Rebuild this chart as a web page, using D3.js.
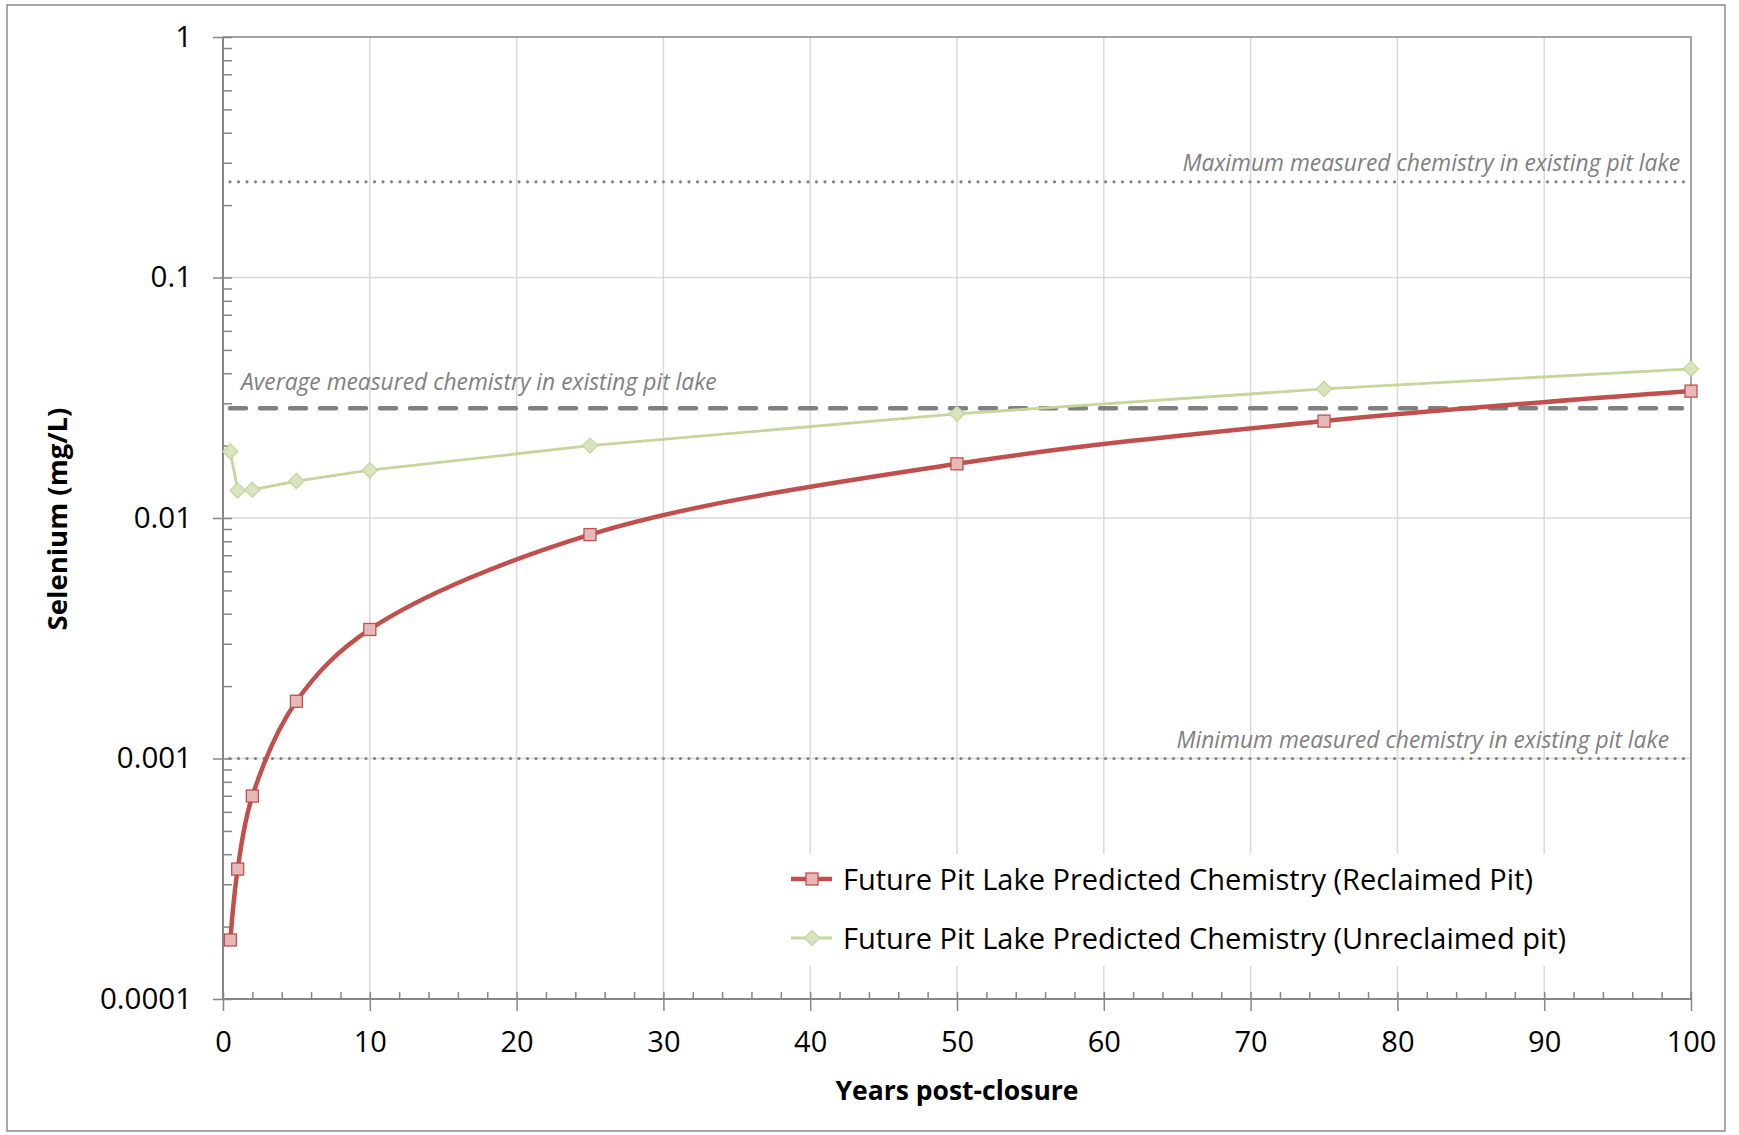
<!DOCTYPE html>
<html>
<head>
<meta charset="utf-8">
<script src="https://cdn.jsdelivr.net/npm/d3@7"></script>
<style>
body { margin: 0; background: #fff; }
text { font-family: "Open Sans", Lato, sans-serif; }
</style>
</head>
<body>
<div id="chart"></div>
<script>
// datos
const years = [0.5, 1, 2, 5, 10, 25, 50, 75, 100];
const reclaimed = [0.000176, 0.000347, 0.000698, 0.00173, 0.00344, 0.00853, 0.0168, 0.0253, 0.0337];
const unreclaimed = [0.0189, 0.0130, 0.0131, 0.01425, 0.0158, 0.0200, 0.0271, 0.0344, 0.0417];
const seriesNames = ['Future Pit Lake Predicted Chemistry (Reclaimed Pit)', 'Future Pit Lake Predicted Chemistry (Unreclaimed pit)'];

const refNames = ['Maximum measured chemistry in existing pit lake', 'Average measured chemistry in existing pit lake', 'Minimum measured chemistry in existing pit lake'];
const refValues = [0.25, 0.0286, 0.001];

const yTicks = [0.0001, 0.001, 0.01, 0.1, 1];
const yTickLabels = ['0.0001', '0.001', '0.01', '0.1', '1'];
const xTicks = [0, 10, 20, 30, 40, 50, 60, 70, 80, 90, 100];

const xTitle = 'Years post-closure';
const yTitle = 'Selenium (mg/L)';

// colores
const RED = '#c0504d', RED_FILL = '#e6b9b8',
    GREEN = '#c3d69b', GREEN_FILL = '#d7e4bd',
    GRID = '#d9d9d9', AXIS = '#868686', REF = '#808080';

const W = 1739, H = 1135;
let margin = {top: 37, right: 48, bottom: 136, left: 223};
let width = W - margin.left - margin.right,
    height = H - margin.top - margin.bottom;

let svgRoot = d3.select('#chart').append('svg')
    .attr('width', W).attr('height', H);

// marco exterior
svgRoot.append('rect')
    .attr('x', 7).attr('y', 5).attr('width', 1718).attr('height', 1126)
    .attr('fill', '#fff').attr('stroke', '#8c8c8c').attr('stroke-width', 1.5);

let svg = svgRoot.append('g')
    .attr('transform', 'translate(' + margin.left + ',' + margin.top + ')');

let x = d3.scaleLinear().domain([0, 100]).range([0, width]);
let y = d3.scaleLog().domain([0.0001, 1]).range([height, 0]);

// rejilla
svg.append('g').selectAll('line')
    .data(xTicks.filter(d => d > 0 && d < 100))
    .enter().append('line')
    .attr('x1', d => x(d)).attr('x2', d => x(d))
    .attr('y1', 0).attr('y2', height)
    .attr('stroke', GRID).attr('stroke-width', 1.5);

svg.append('g').selectAll('line')
    .data(yTicks.filter(d => d > 0.0001 && d < 1))
    .enter().append('line')
    .attr('x1', 0).attr('x2', width)
    .attr('y1', d => y(d)).attr('y2', d => y(d))
    .attr('stroke', GRID).attr('stroke-width', 1.5);

// borde del area
svg.append('rect')
    .attr('width', width).attr('height', height)
    .attr('fill', 'none').attr('stroke', AXIS).attr('stroke-width', 1.5);

// marcas menores del eje Y
let yMinor = [];
yTicks.slice(0, -1).forEach(function(d) {
    for (let k = 2; k <= 9; k++) yMinor.push(d * k);
});

let styleAxis = function(g) {
    g.select('.domain').remove();
    g.selectAll('.tick line').attr('stroke', AXIS).attr('stroke-width', 1.5);
};

svg.append('g')
    .call(d3.axisLeft(y).tickValues(yMinor).tickSize(-9).tickFormat(''))
    .call(styleAxis);

svg.append('g')
    .call(d3.axisLeft(y).tickValues(yTicks).tickSize(-9).tickFormat(''))
    .call(styleAxis);

svg.append('g')
    .call(d3.axisLeft(y).tickValues(yTicks).tickSize(10).tickPadding(21)
        .tickFormat((d, i) => yTickLabels[i]))
    .call(styleAxis)
    .call(g => g.selectAll('text')
        .attr('fill', '#000').style('font-size', '29.5px'));

svg.append('line')
    .attr('x1', 0).attr('x2', 0).attr('y1', 0).attr('y2', height)
    .attr('stroke', AXIS).attr('stroke-width', 2);

// eje X
let xMinor = d3.range(0, 101, 2).filter(d => d % 10 != 0);

svg.append('g')
    .attr('transform', 'translate(0,' + height + ')')
    .call(d3.axisBottom(x).tickValues(xMinor).tickSize(-7).tickFormat(''))
    .call(styleAxis);

svg.append('g')
    .attr('transform', 'translate(0,' + height + ')')
    .call(d3.axisBottom(x).tickValues(xTicks).tickSize(-7).tickFormat(''))
    .call(styleAxis);

svg.append('g')
    .attr('transform', 'translate(0,' + height + ')')
    .call(d3.axisBottom(x).tickValues(xTicks).tickSize(12).tickPadding(20))
    .call(styleAxis)
    .call(g => g.selectAll('text')
        .attr('fill', '#000').style('font-size', '29px'));

svg.append('line')
    .attr('x1', 0).attr('x2', width).attr('y1', height).attr('y2', height)
    .attr('stroke', AXIS).attr('stroke-width', 2);

// titulos de ejes
svg.append('text')
    .attr('x', x(50)).attr('y', height + 101)
    .attr('text-anchor', 'middle')
    .style('font-size', '26.5px').style('font-weight', 700)
    .text(xTitle);

svg.append('text')
    .attr('transform', 'translate(' + (-156) + ',' + (y(0.01) + 1) + ') rotate(-90)')
    .attr('text-anchor', 'middle')
    .style('font-size', '27.5px').style('font-weight', 700)
    .text(yTitle);

// lineas de referencia
let refDash = ['0 8.5', '16 14', '0 8.5'];
let refWidth = [3.2, 4.5, 3.2];
svg.append('g').selectAll('line')
    .data(refValues)
    .enter().append('line')
    .attr('x1', 7).attr('x2', (d, i) => i == 1 ? width - 9 : width - 3)
    .attr('y1', d => y(d)).attr('y2', d => y(d))
    .attr('stroke', REF)
    .attr('stroke-width', (d, i) => refWidth[i])
    .attr('stroke-linecap', 'round')
    .attr('stroke-dasharray', (d, i) => refDash[i]);

let refLabelX = [width - 11, 18, width - 22];
let refLabelDy = [-11, -18, -11];
svg.append('g').selectAll('text')
    .data(refValues)
    .enter().append('text')
    .attr('x', (d, i) => refLabelX[i])
    .attr('y', (d, i) => y(d) + refLabelDy[i])
    .attr('text-anchor', (d, i) => i == 1 ? 'start' : 'end')
    .attr('fill', REF)
    .style('font-size', '22.8px').style('font-style', 'italic')
    .text((d, i) => refNames[i]);

// series
let redData = years.map((d, i) => [d, reclaimed[i]]);
let greenData = years.map((d, i) => [d, unreclaimed[i]]);

let redLine = d3.line()
    .x(d => x(d[0])).y(d => y(d[1]))
    .curve(d3.curveCatmullRom.alpha(0.5));
let greenLine = d3.line()
    .x(d => x(d[0])).y(d => y(d[1]));

svg.append('path')
    .datum(greenData)
    .attr('d', greenLine)
    .attr('fill', 'none').attr('stroke', GREEN).attr('stroke-width', 2.8);

svg.append('g').selectAll('path')
    .data(greenData)
    .enter().append('path')
    .attr('d', d3.symbol().type(d3.symbolSquare).size(115))
    .attr('transform', d => 'translate(' + x(d[0]) + ',' + y(d[1]) + ') rotate(45)')
    .attr('fill', GREEN_FILL).attr('stroke', GREEN).attr('stroke-width', 1.2);

svg.append('path')
    .datum(redData)
    .attr('d', redLine)
    .attr('fill', 'none').attr('stroke', RED).attr('stroke-width', 4.5);

svg.append('g').selectAll('rect')
    .data(redData)
    .enter().append('rect')
    .attr('x', d => x(d[0]) - 6).attr('y', d => y(d[1]) - 6)
    .attr('width', 12).attr('height', 12)
    .attr('fill', RED_FILL).attr('stroke', RED).attr('stroke-width', 1.3);

// leyenda
let legend = svg.append('g')
    .attr('transform', 'translate(' + (782 - margin.left) + ',' + (854 - margin.top) + ')');

legend.append('rect')
    .attr('width', 810).attr('height', 112).attr('fill', '#fff');

let legendColors = [RED, GREEN];
let legendWidths = [4.5, 2.8];
seriesNames.forEach(function(name, i) {
    let ly = 25 + i * 59;
    legend.append('line')
        .attr('x1', 9).attr('x2', 50).attr('y1', ly).attr('y2', ly)
        .attr('stroke', legendColors[i]).attr('stroke-width', legendWidths[i]);
    if (i == 0) {
        legend.append('rect')
            .attr('x', 24).attr('y', ly - 6).attr('width', 12).attr('height', 12)
            .attr('fill', RED_FILL).attr('stroke', RED).attr('stroke-width', 1.3);
    } else {
        legend.append('path')
            .attr('d', d3.symbol().type(d3.symbolSquare).size(115))
            .attr('transform', 'translate(30,' + ly + ') rotate(45)')
            .attr('fill', GREEN_FILL).attr('stroke', GREEN).attr('stroke-width', 1.2);
    }
    legend.append('text')
        .attr('x', 61).attr('y', ly + 10.5)
        .style('font-size', '29px')
        .text(name);
});
</script>
</body>
</html>
